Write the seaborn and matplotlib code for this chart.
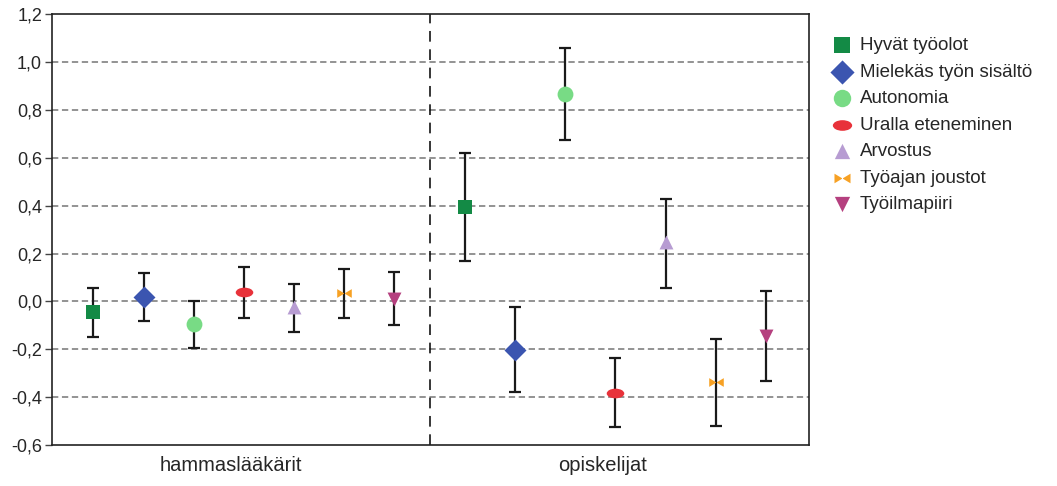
import numpy as np
import pandas as pd
import seaborn as sns
import matplotlib
matplotlib.use("Agg")
from matplotlib import pyplot as plt
from matplotlib.path import Path
from matplotlib.ticker import FuncFormatter
from matplotlib.transforms import ScaledTranslation

# Data
groups = ['hammaslääkärit', 'opiskelijat']
factors = ['Hyvät työolot', 'Mielekäs työn sisältö', 'Autonomia',
           'Uralla eteneminen', 'Arvostus', 'Työajan joustot', 'Työilmapiiri']

mean_hamm = [-0.042, 0.018, -0.093, 0.038, -0.023, 0.035, 0.010]
low_hamm = [-0.149, -0.083, -0.193, -0.069, -0.126, -0.071, -0.099]
high_hamm = [0.056, 0.121, 0.004, 0.142, 0.071, 0.135, 0.123]

mean_opis = [0.393, -0.202, 0.867, -0.383, 0.250, -0.338, -0.146]
low_opis = [0.171, -0.376, 0.675, -0.524, 0.057, -0.519, -0.331]
high_opis = [0.618, -0.023, 1.058, -0.236, 0.428, -0.157, 0.042]

colors = ['#138a45', '#3b55b0', '#78db85', '#e8323a', '#b79cd2', '#f7a124', '#b5407f']

# custom marker shapes
ellipse = Path.unit_circle()
ellipse = Path(ellipse.vertices * np.array([1.0, 0.55]), ellipse.codes)
bowtie = Path([(-1, 0.6), (0, 0), (-1, -0.6), (-1, 0.6),
               (1, 0.6), (0, 0), (1, -0.6), (1, 0.6)],
              [Path.MOVETO, Path.LINETO, Path.LINETO, Path.CLOSEPOLY,
               Path.MOVETO, Path.LINETO, Path.LINETO, Path.CLOSEPOLY])
markers = ['s', 'D', 'o', ellipse, '^', bowtie, 'v']
sizes = [110, 125, 130, 160, 100, 110, 100]

df = pd.DataFrame({
    'group': np.repeat(groups, len(factors)),
    'factor': factors * 2,
    'mean': mean_hamm + mean_opis,
    'low': low_hamm + low_opis,
    'high': high_hamm + high_opis,
})
df['gi'] = df['group'].map({g: i for i, g in enumerate(groups)})
df['fi'] = df['factor'].map({f: i for i, f in enumerate(factors)})
df['x'] = df['gi'] + (df['fi'] - 3) * 0.135

sns.set_style('white')
plt.rcParams['font.family'] = ['Liberation Sans', 'DejaVu Sans']

fig = plt.figure(figsize=(10.57, 4.86), dpi=100)
ax = fig.add_axes([0.049, 0.084, 0.716, 0.887])

for y in np.arange(-0.4, 1.01, 0.2):
    ax.axhline(y, color='#8a8a8a', lw=1.3, ls=(0, (3.5, 2)), zorder=0)
ax.axvline(0.5, color='black', lw=1.1, ls=(0, (7, 5)), zorder=1)

for i, f in enumerate(factors):
    sub = df[df['factor'] == f]
    ax.errorbar(sub['x'], sub['mean'],
                yerr=[sub['mean'] - sub['low'], sub['high'] - sub['mean']],
                fmt='none', ecolor='#1a1a1a', elinewidth=1.6,
                capsize=4.6, capthick=1.6, zorder=2)
    sns.scatterplot(data=sub, x='x', y='mean', ax=ax, color=colors[i],
                    marker=markers[i], s=sizes[i], linewidth=0,
                    label=f, zorder=3)

ax.set_xlim(-0.517, 1.52)
ax.set_ylim(-0.6, 1.2)
ax.set_yticks(np.arange(-0.6, 1.21, 0.2))
ax.yaxis.set_major_formatter(FuncFormatter(lambda v, p: f'{v:.1f}'.replace('.', ',').replace('-0,0', '0,0')))
ax.set_xticks([0, 1])
ax.set_xticklabels(groups)
ax.set_xlabel('')
ax.set_ylabel('')
ax.tick_params(axis='y', length=5, width=1, color='#444444', labelsize=13, pad=2, direction='out', left=True)
ax.tick_params(axis='x', length=0, labelsize=14.5, pad=8)
# group labels sit a little left of the group centre in the original
for lab in ax.get_xticklabels():
    lab.set_transform(lab.get_transform() + ScaledTranslation(-0.13, 0, fig.dpi_scale_trans))
for s in ax.spines.values():
    s.set_color('#222222')
    s.set_linewidth(1.2)

ax.legend(loc='upper left', bbox_to_anchor=(1.032, 0.947), frameon=False,
          fontsize=13.5, handlelength=1.0, handletextpad=0.45, labelspacing=0.5,
          borderaxespad=0, borderpad=0, markerscale=1.1)

fig.savefig('out.png', dpi=100)
